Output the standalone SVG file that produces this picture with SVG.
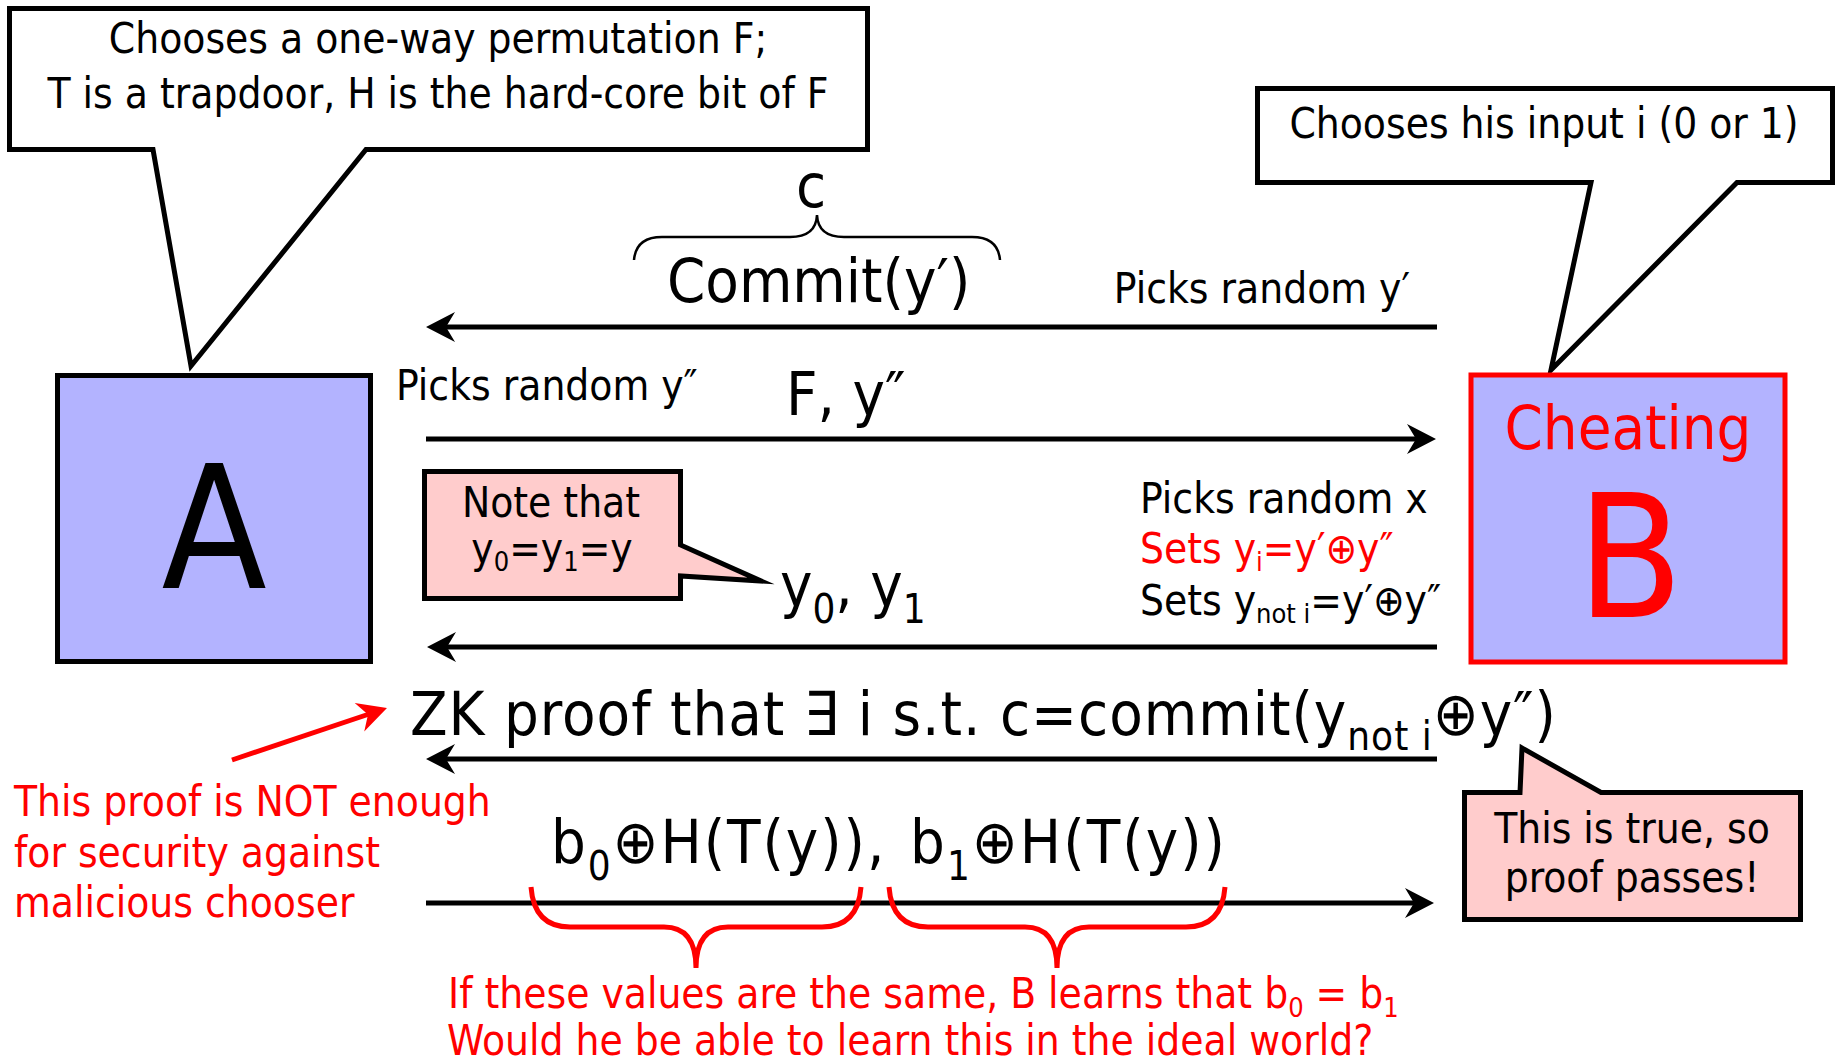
<svg xmlns="http://www.w3.org/2000/svg" width="1839" height="1063" viewBox="0 0 1839 1063">
<style>
text{font-family:"DejaVu Sans Condensed","Liberation Sans",sans-serif;fill:#000}
.s{font-size:42px}
.b{font-size:61px}
.r{fill:#f00}
.c{text-anchor:middle}
.e{text-anchor:end}
.arr{stroke:#000;stroke-width:5;fill:none;marker-end:url(#ah)}
.arr-red{stroke:#f00;stroke-width:5;fill:none;marker-end:url(#ahr)}
.callout{fill:#fff;stroke:#000;stroke-width:5;stroke-linejoin:miter;stroke-miterlimit:20}
.pink{fill:#ffcccc;stroke:#000;stroke-width:5;stroke-linejoin:miter;stroke-miterlimit:20}
.party{fill:#b3b3ff;stroke-width:5}
.brace{fill:none;stroke:#f00;stroke-width:5}
.tbrace{fill:none;stroke:#000;stroke-width:2.5}
</style>
<defs>
<marker id="ah" markerUnits="userSpaceOnUse" viewBox="-20 -18 40 36" refX="0" refY="0" markerWidth="40" markerHeight="36" orient="auto">
<path d="M14,0 L-15,-15 L-6,0 L-15,15 Z" fill="#000"/>
</marker>
<marker id="ahr" markerUnits="userSpaceOnUse" viewBox="-20 -18 40 36" refX="0" refY="0" markerWidth="40" markerHeight="36" orient="auto">
<path d="M14,0 L-15,-15 L-6,0 L-15,15 Z" fill="#f00"/>
</marker>
</defs>
<rect width="1839" height="1063" fill="#fff"/>

<g id="callout-A">
<path class="callout" d="M9.5,8.5 H867.5 V149.5 H366 L191,366 L153,149.5 H9.5 Z"/>
<text class="s c" x="438" y="53">Chooses a one-way permutation F;</text>
<text class="s c" x="438" y="108">T is a trapdoor, H is the hard-core bit of F</text>
</g>

<g id="callout-B">
<path class="callout" d="M1257.5,88.5 H1832.5 V182.5 H1737 L1551,370 L1591,182.5 H1257.5 Z"/>
<text class="s c" x="1544" y="138">Chooses his input i (0 or 1)</text>
</g>

<g id="party-A">
<rect class="party" x="57.5" y="375.5" width="313" height="286" stroke="#000"/>
<text class="c" x="214" y="588" font-size="171">A</text>
</g>

<g id="party-B">
<rect class="party" x="1471" y="375" width="314" height="287" stroke="#f00" stroke-width="6"/>
<text class="c r" x="1628" y="449" font-size="61">Cheating</text>
<text class="c r" x="1630" y="617" font-size="172">B</text>
</g>

<g id="connectors">
<path class="arr" d="M1437,327 H440"/>
<path class="arr" d="M426,439 H1422"/>
<path class="arr" d="M1437,647 H441"/>
<path class="arr" d="M1437,759 H440"/>
<path class="arr" d="M426,903 H1420"/>
<path class="arr-red" d="M232,760 L373.7,712.5"/>
</g>

<g id="msg-commit">
<text class="b c" x="811" y="207">c</text>
<path class="tbrace" d="M634,260 Q636,237 662,237 H790 Q816,237 817,215 Q818,237 844,237 H972 Q998,237 1000,260"/>
<text class="b" x="667" y="302">Commit(y′)</text>
<text class="s e" x="1410" y="303">Picks random y′</text>
</g>

<g id="msg-F">
<text class="s" x="396" y="400">Picks random y″</text>
<text class="b" x="786" y="415">F, y″</text>
</g>

<g id="msg-y">
<text class="b" x="780" y="606">y<tspan font-size="40" dy="17">0</tspan><tspan dy="-17">, y</tspan><tspan font-size="40" dy="17">1</tspan></text>
<text class="s" x="1140" y="513">Picks random x</text>
<text class="s r" x="1140" y="563">Sets y<tspan font-size="27" dy="8">i</tspan><tspan dy="-8">=y′⊕y″</tspan></text>
<text class="s" x="1140" y="615">Sets y<tspan font-size="27" dy="8">not i</tspan><tspan dy="-8">=y′⊕y″</tspan></text>
</g>

<g id="note-callout">
<path class="pink" d="M424.5,471.5 H680.5 V545 L761,581 L680.5,576 V598.5 H424.5 Z"/>
<text class="s c" x="551" y="517">Note that</text>
<text class="s c" x="552" y="563">y<tspan font-size="27" dy="8">0</tspan><tspan dy="-8">=y</tspan><tspan font-size="27" dy="8">1</tspan><tspan dy="-8">=y</tspan></text>
</g>

<g id="msg-zk">
<text class="b" x="410" y="735" textLength="1146" lengthAdjust="spacing">ZK proof that ∃ i s.t. c=commit(y<tspan font-size="40" dy="15">not i</tspan><tspan dy="-15">⊕y″)</tspan></text>
</g>

<g id="true-callout">
<path class="pink" d="M1464.5,792.5 H1520 L1522,748 L1601,792.5 H1800.5 V919.5 H1464.5 Z"/>
<text class="s c" x="1632" y="843">This is true, so</text>
<text class="s c" x="1632" y="892">proof passes!</text>
</g>

<g id="note-red">
<text class="s r" x="14" y="816">This proof is NOT enough</text>
<text class="s r" x="14" y="867">for security against</text>
<text class="s r" x="14" y="917">malicious chooser</text>
</g>

<g id="msg-b">
<text class="b" x="551" y="863" textLength="314" lengthAdjust="spacing">b<tspan font-size="40" dy="17">0</tspan><tspan dy="-17">⊕H(T(y))</tspan></text>
<text class="b" x="867" y="863">,</text>
<text class="b" x="910" y="863" textLength="315" lengthAdjust="spacing">b<tspan font-size="40" dy="17">1</tspan><tspan dy="-17">⊕H(T(y))</tspan></text>
<path class="brace" d="M531,887 Q534,927 570,927 H664 Q696,927 696,968 Q696,927 728,927 H822 Q858,927 861,887"/>
<path class="brace" d="M889,887 Q892,927 928,927 H1025 Q1057,927 1057,968 Q1057,927 1089,927 H1186 Q1222,927 1225,887"/>
<text class="s r" x="448" y="1008">If these values are the same, B learns that b<tspan font-size="27" dy="9">0</tspan><tspan dy="-9"> = b</tspan><tspan font-size="27" dy="9">1</tspan></text>
<text class="s r" x="447" y="1055">Would he be able to learn this in the ideal world?</text>
</g>
</svg>
